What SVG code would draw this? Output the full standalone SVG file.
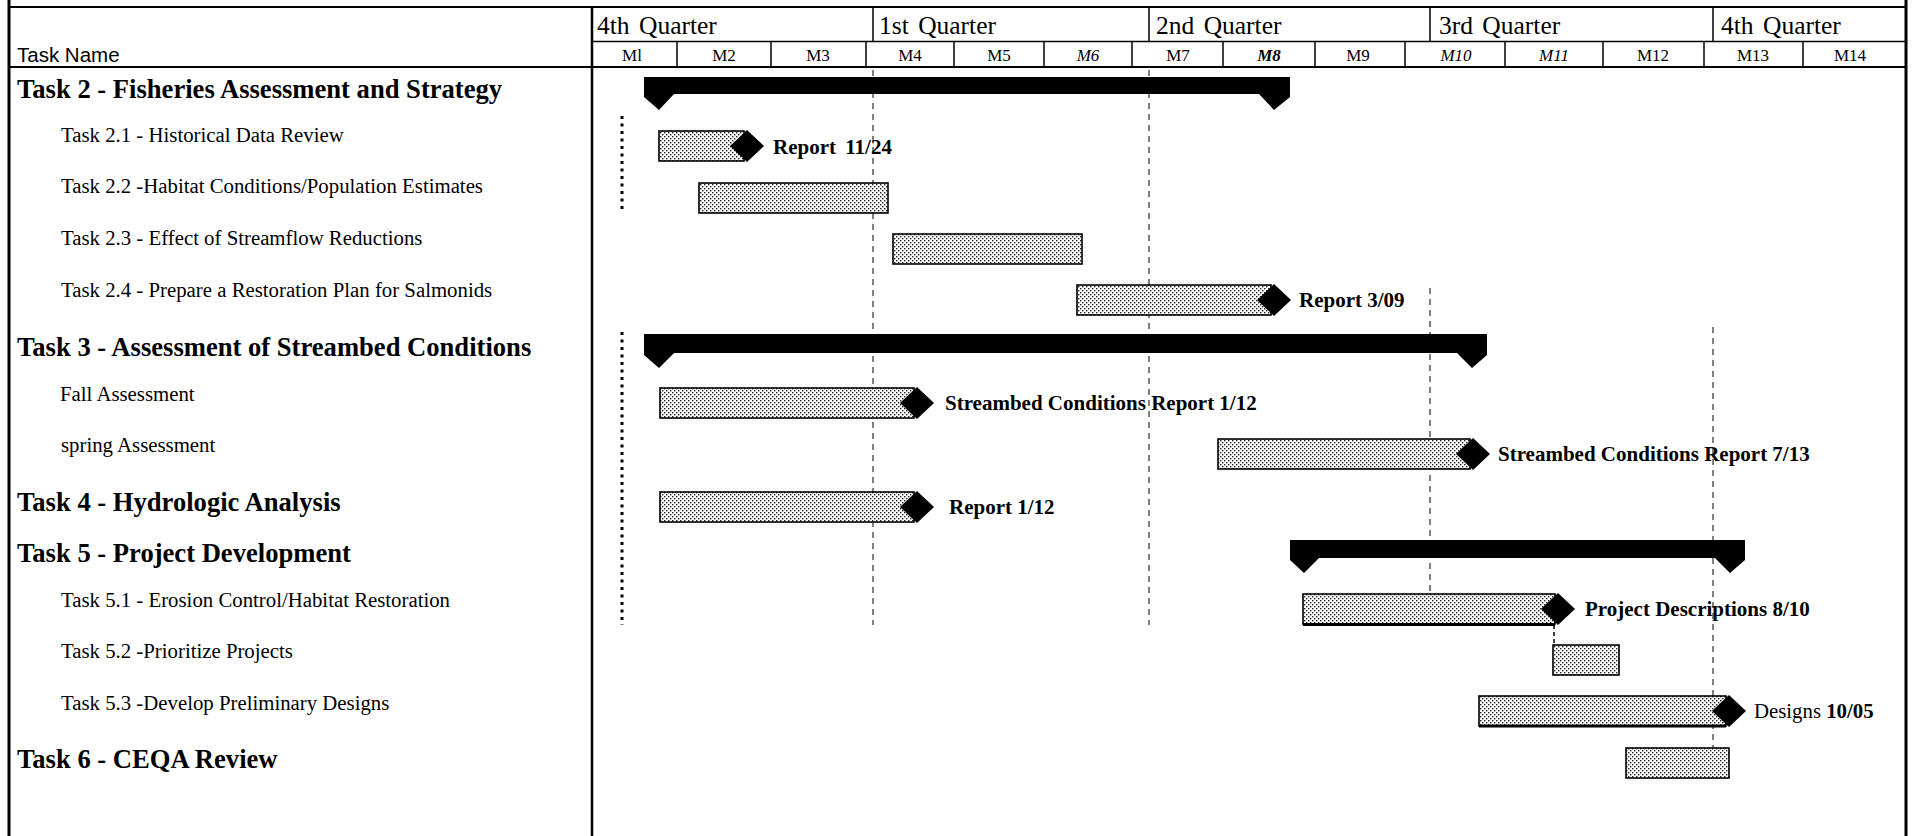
<svg xmlns="http://www.w3.org/2000/svg" width="1913" height="836" viewBox="0 0 1913 836">
<defs>
<pattern id="dots" width="4" height="4" patternUnits="userSpaceOnUse">
<rect width="4" height="4" fill="#fff"/>
<rect x="0" y="0" width="1.4" height="1.4" fill="#222"/>
<rect x="2" y="2" width="1.4" height="1.4" fill="#222"/>
</pattern>
<style>
.ln{stroke:#000;fill:none}
.bar{fill:url(#dots);stroke:#000;stroke-width:1.6}
.blk{fill:#000}
.h{font-family:"Liberation Serif","Times New Roman",serif;font-weight:bold;font-size:26.6px;fill:#000}
.t{font-family:"Liberation Serif","Times New Roman",serif;font-size:20.8px;fill:#000}
.lbl{font-family:"Liberation Serif","Times New Roman",serif;font-weight:bold;font-size:21px;fill:#000}
.q{font-family:"Liberation Serif","Times New Roman",serif;font-size:25.5px;word-spacing:3px;fill:#000}
.m{font-family:"Liberation Serif","Times New Roman",serif;font-size:17px;text-anchor:middle;fill:#000}
.tn{font-family:"Liberation Sans",Arial,sans-serif;font-size:20.5px;fill:#000}
.grid{stroke:#000;stroke-width:1;stroke-dasharray:6 5;fill:none}
.dotl{stroke:#000;stroke-width:3;stroke-dasharray:3 4.5;fill:none}
.link{stroke:#000;stroke-width:1.5;stroke-dasharray:4 3;fill:none}
</style>
</defs>
<rect width="1913" height="836" fill="#fff"/>

<g id="frame">
<line class="ln" x1="9" y1="0" x2="9" y2="836" stroke-width="3"/>
<line class="ln" x1="1906" y1="0" x2="1906" y2="836" stroke-width="3"/>
<line class="ln" x1="8" y1="7" x2="1906" y2="7" stroke-width="2"/>
<line class="ln" x1="592" y1="41.5" x2="1906" y2="41.5" stroke-width="1.5"/>
<line class="ln" x1="8" y1="67" x2="1906" y2="67" stroke-width="2"/>
<line class="ln" x1="592" y1="7" x2="592" y2="836" stroke-width="2.5"/>
<g stroke="#000" stroke-width="1.5">
<line x1="873" y1="7" x2="873" y2="41.5"/>
<line x1="1149" y1="7" x2="1149" y2="41.5"/>
<line x1="1430" y1="7" x2="1430" y2="41.5"/>
<line x1="1713" y1="7" x2="1713" y2="41.5"/>
<line x1="677" y1="41.5" x2="677" y2="67"/>
<line x1="771" y1="41.5" x2="771" y2="67"/>
<line x1="866" y1="41.5" x2="866" y2="67"/>
<line x1="954" y1="41.5" x2="954" y2="67"/>
<line x1="1044" y1="41.5" x2="1044" y2="67"/>
<line x1="1132" y1="41.5" x2="1132" y2="67"/>
<line x1="1223" y1="41.5" x2="1223" y2="67"/>
<line x1="1315" y1="41.5" x2="1315" y2="67"/>
<line x1="1405" y1="41.5" x2="1405" y2="67"/>
<line x1="1505" y1="41.5" x2="1505" y2="67"/>
<line x1="1603" y1="41.5" x2="1603" y2="67"/>
<line x1="1704" y1="41.5" x2="1704" y2="67"/>
<line x1="1803" y1="41.5" x2="1803" y2="67"/>
</g>
</g>

<g id="timescale">
<text class="q" x="597" y="34">4th Quarter</text>
<text class="q" x="879" y="34">1st Quarter</text>
<text class="q" x="1156" y="34">2nd Quarter</text>
<text class="q" x="1439" y="34">3rd Quarter</text>
<text class="q" x="1721" y="34">4th Quarter</text>
<text class="m" x="632" y="61">Ml</text>
<text class="m" x="724" y="61">M2</text>
<text class="m" x="818" y="61">M3</text>
<text class="m" x="910" y="61">M4</text>
<text class="m" x="999" y="61">M5</text>
<text class="m" x="1088" y="61" font-style="italic">M6</text>
<text class="m" x="1178" y="61">M7</text>
<text class="m" x="1269" y="61" font-style="italic" font-weight="bold">M8</text>
<text class="m" x="1358" y="61">M9</text>
<text class="m" x="1456" y="61" font-style="italic">M10</text>
<text class="m" x="1554" y="61" font-style="italic">M11</text>
<text class="m" x="1653" y="61">M12</text>
<text class="m" x="1753" y="61">M13</text>
<text class="m" x="1850" y="61">M14</text>
<text class="tn" x="17" y="62">Task Name</text>
</g>

<g id="gridlines">
<line class="grid" x1="873" y1="70" x2="873" y2="625"/>
<line class="grid" x1="1149" y1="70" x2="1149" y2="625"/>
<line class="grid" x1="1430" y1="288" x2="1430" y2="625"/>
<line class="grid" x1="1713" y1="327" x2="1713" y2="760"/>
<line class="dotl" x1="622" y1="116" x2="622" y2="213"/>
<line class="dotl" x1="622" y1="332" x2="622" y2="625"/>
</g>

<g id="connectors">
<line class="link" x1="1554" y1="625" x2="1554" y2="675"/>
</g>

<g id="task2">
<text class="h" x="17" y="98">Task 2 - Fisheries Assessment and Strategy</text>
<path class="blk" d="M644,77 H1290 V97 L1274,110 L1259,94 H674 L659,110 L644,97 Z"/>
</g>
<g id="task2-1">
<text class="t" x="61" y="142">Task 2.1 - Historical Data Review</text>
<rect class="bar" x="659" y="131" width="85" height="30"/>
<polygon class="blk" points="730,146 747,130 764,146 747,162"/>
<text class="lbl" x="773" y="154" word-spacing="4">Report 11/24</text>
</g>
<g id="task2-2">
<text class="t" x="61" y="193">Task 2.2 -Habitat Conditions/Population Estimates</text>
<rect class="bar" x="699" y="183" width="189" height="30"/>
</g>
<g id="task2-3">
<text class="t" x="61" y="245">Task 2.3 - Effect of Streamflow Reductions</text>
<rect class="bar" x="893" y="234" width="189" height="30"/>
</g>
<g id="task2-4">
<text class="t" x="61" y="297">Task 2.4 - Prepare a Restoration Plan for Salmonids</text>
<rect class="bar" x="1077" y="285" width="194" height="30"/>
<polygon class="blk" points="1257,300 1274,284 1291,300 1274,316"/>
<text class="lbl" x="1299" y="307">Report 3/09</text>
</g>
<g id="task3">
<text class="h" x="17" y="356">Task 3 - Assessment of Streambed Conditions</text>
<path class="blk" d="M644,334 H1487 V355 L1472,368 L1457,353 H674 L659,368 L644,355 Z"/>
</g>
<g id="fall">
<text class="t" x="60" y="401">Fall Assessment</text>
<rect class="bar" x="660" y="388" width="254" height="30"/>
<polygon class="blk" points="900,403 917,387 934,403 917,419"/>
<text class="lbl" x="945" y="410">Streambed Conditions Report 1/12</text>
</g>
<g id="spring">
<text class="t" x="61" y="452">spring  Assessment</text>
<rect class="bar" x="1218" y="439" width="252" height="30"/>
<polygon class="blk" points="1456,454 1473,438 1490,454 1473,470"/>
<text class="lbl" x="1498" y="461">Streambed Conditions Report 7/13</text>
</g>
<g id="task4">
<text class="h" x="17" y="511">Task 4 - Hydrologic Analysis</text>
<rect class="bar" x="660" y="492" width="254" height="30"/>
<polygon class="blk" points="900,507 917,491 934,507 917,523"/>
<text class="lbl" x="949" y="514">Report 1/12</text>
</g>
<g id="task5">
<text class="h" x="17" y="562">Task 5 - Project Development</text>
<path class="blk" d="M1290,540 H1745 V560 L1730,573 L1715,558 H1319 L1304,573 L1290,560 Z"/>
</g>
<g id="task5-1">
<text class="t" x="61" y="607">Task 5.1 - Erosion Control/Habitat Restoration</text>
<rect class="bar" x="1303" y="594" width="252" height="30"/>
<line class="ln" x1="1303" y1="624.5" x2="1555" y2="624.5" stroke-width="3"/>
<polygon class="blk" points="1541,609 1558,593 1575,609 1558,625"/>
<text class="lbl" x="1585" y="616">Project Descriptions 8/10</text>
</g>
<g id="task5-2">
<text class="t" x="61" y="658">Task 5.2 -Prioritize Projects</text>
<rect class="bar" x="1553" y="645" width="66" height="30"/>
</g>
<g id="task5-3">
<text class="t" x="61" y="710">Task 5.3 -Develop Preliminary Designs</text>
<rect class="bar" x="1479" y="696" width="247" height="30"/>
<line class="ln" x1="1479" y1="726" x2="1726" y2="726" stroke-width="3"/>
<polygon class="blk" points="1712,711 1729,695 1746,711 1729,727"/>
<text class="t" x="1754" y="718" font-size="22">Designs <tspan font-weight="bold">10/05</tspan></text>
</g>
<g id="task6">
<text class="h" x="17" y="768">Task 6 - CEQA Review</text>
<rect class="bar" x="1626" y="748" width="103" height="30"/>
</g>
</svg>
